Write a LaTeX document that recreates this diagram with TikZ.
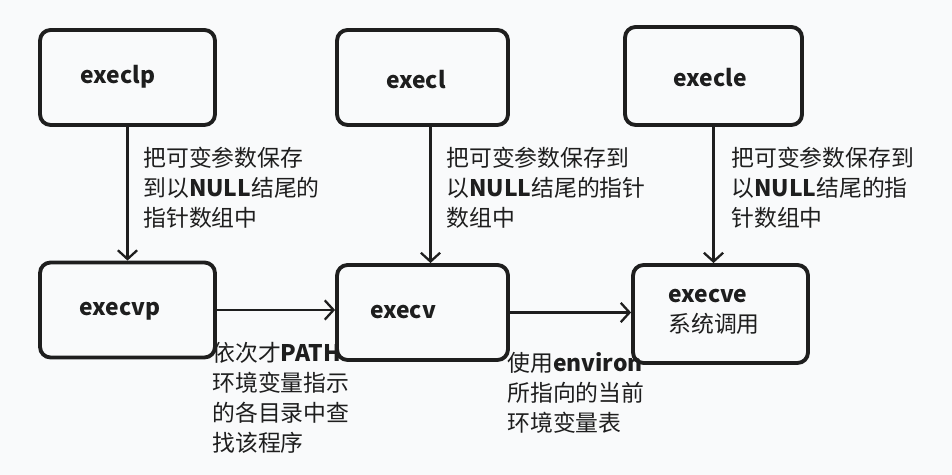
\documentclass[tikz,border=0pt]{standalone}
\usepackage{fontspec}
\setmainfont{Noto Sans CJK SC}
\usetikzlibrary{arrows.meta,positioning}
\definecolor{ink}{RGB}{30,30,30}
\definecolor{paper}{RGB}{249,250,251}

\begin{document}
\begin{tikzpicture}[x=0.02cm,y=-0.02cm,>={Straight Barb[length=5pt,width=11pt,line width=1.3pt]},
  fnbox/.style={draw=ink,line width=2.2pt,rounded corners=6pt,minimum width=3.5cm,minimum height=1.9cm},
  fname/.style={font=\fontsize{13pt}{17pt}\selectfont\bfseries,text=ink,inner sep=0pt},
  note/.style={font=\fontsize{13pt}{17pt}\selectfont,text=ink,align=left,anchor=north west,inner sep=0pt},
  arr/.style={->,draw=ink,line width=1.6pt}]
  \fill[paper] (0,0) rectangle (952,475);
  % top row
  \node[fnbox] (execlp) at (127.5,77.5) {};
  \node[fnbox,minimum width=3.42cm] (execl) at (422.5,77.5) {};
  \node[fnbox,minimum width=3.54cm,minimum height=1.96cm] (execle) at (713.5,76) {};
  % bottom row
  \node[fnbox] (execvp) at (127.5,310) {};
  \node[fnbox,minimum width=3.42cm] (execv) at (422.5,312.5) {};
  \node[fnbox,minimum height=1.96cm] (execve) at (720.5,314) {};
  % names
  \node[fname] (n1) at (118,77) {execlp};
  \node[fname] (n2) at (416,80) {execl};
  \node[fname] (n3) at (710,78) {execle};
  \node[fname] (n4) at (120,311) {execvp};
  \node[fname] (n5) at (403,312) {execv};
  \node[fname,align=left,font=\fontsize{13pt}{17pt}\selectfont] (n6) at (714,312)
    {\textbf{execve}\\系统调用};
  % arrows
  \draw[arr] (execlp.south) -- (execlp.south |- execvp.north);
  \draw[arr] ([xshift=0.16cm]execl.south) -- ([xshift=0.16cm]execv.north);
  \draw[arr] (execle.south) -- (execle.south |- execve.north);
  \draw[arr] (execvp.east) -- (execvp.east -| execv.west);
  \draw[arr] (execv.east) -- (execv.east -| execve.west);
  % notes
  \node[note] (m1) at (143,147) {把可变参数保存\\到以\textbf{NULL}结尾的\\指针数组中};
  \node[note] (m2) at (446,147) {把可变参数保存到\\以\textbf{NULL}结尾的指针\\数组中};
  \node[note] (m3) at (731,147) {把可变参数保存到\\以\textbf{NULL}结尾的指\\针数组中};
  \node[note] (m4) at (212,342) {依次才\textbf{PATH}\\环境变量指示\\的各目录中查\\找该程序};
  \node[note] (m5) at (507,352) {使用\textbf{environ}\\所指向的当前\\环境变量表};
\end{tikzpicture}
\end{document}
